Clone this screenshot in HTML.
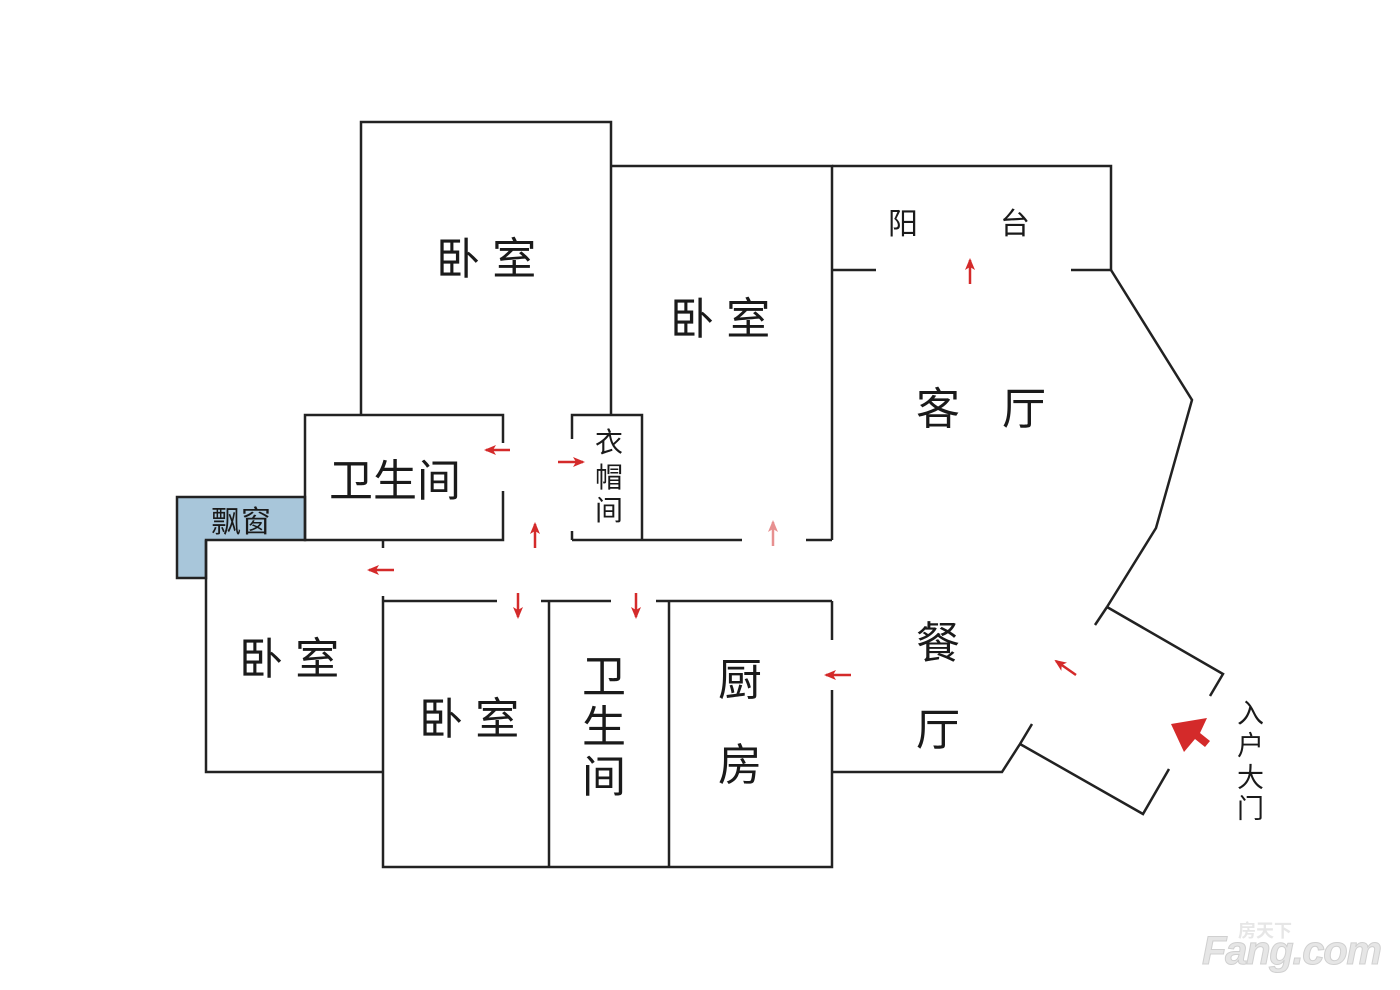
<!DOCTYPE html>
<html><head><meta charset="utf-8"><style>
html,body{margin:0;padding:0;background:#fff;}
svg{display:block;}
text{font-family:"Liberation Sans","Noto Sans CJK SC",sans-serif;fill:#1a1a1a;}
</style></head><body>
<svg width="1400" height="990" viewBox="0 0 1400 990" xmlns="http://www.w3.org/2000/svg">
<defs>
<marker id="a" markerWidth="12" markerHeight="10" refX="10" refY="5" orient="auto" markerUnits="userSpaceOnUse" viewBox="0 0 12 10"><path d="M0,0 L12,5 L0,10 L3,5 z" fill="#d42a2a"/></marker>
<marker id="b" markerWidth="12" markerHeight="10" refX="10" refY="5" orient="auto" markerUnits="userSpaceOnUse" viewBox="0 0 12 10"><path d="M0,0 L12,5 L0,10 L3,5 z" fill="#e79090"/></marker>
</defs>
<polygon points="177,497 305,497 305,540 206,540 206,578 177,578" fill="#a8c6da" stroke="#222" stroke-width="2.5"/>
<g stroke="#222" stroke-width="2.5" fill="none">
<polyline points="361,415 361,122 611,122 611,415"/>
<polyline points="611,166 832,166 832,540"/>
<polyline points="832,166 1111,166 1111,270"/>
<line x1="832" y1="270" x2="876" y2="270"/><line x1="1071" y1="270" x2="1111" y2="270"/>
<polyline points="1111,270 1192,400 1156,528 1107,607"/>
<line x1="1107" y1="607" x2="1095" y2="625"/>
<polyline points="1107,607 1223,674 1210,696"/>
<polyline points="1032,724 1020,744 1002,772 832,772"/>
<polyline points="1020,744 1143,814 1169,769"/>
<polyline points="503,443 503,415 305,415 305,540 503,540 503,491"/>
<polyline points="572,439 572,415 642,415 642,540"/>
<line x1="572" y1="531" x2="572" y2="540"/>
<line x1="572" y1="540" x2="742" y2="540"/><line x1="806" y1="540" x2="832" y2="540"/>
<polyline points="206,540 206,772 383,772"/>
<line x1="383" y1="540" x2="383" y2="548"/>
<polyline points="383,596 383,867 832,867 832,690"/>
<line x1="832" y1="601" x2="832" y2="640"/>
<line x1="383" y1="601" x2="497" y2="601"/><line x1="541" y1="601" x2="611" y2="601"/><line x1="656" y1="601" x2="832" y2="601"/>
<line x1="549" y1="601" x2="549" y2="867"/><line x1="669" y1="601" x2="669" y2="867"/>
</g>
<g stroke="#d42a2a" stroke-width="2.5" marker-end="url(#a)">
<line x1="970" y1="284" x2="970" y2="260"/>
<line x1="510" y1="450" x2="486" y2="450"/>
<line x1="558" y1="462" x2="583" y2="462"/>
<line x1="535" y1="548" x2="535" y2="524"/>
<line x1="773" y1="546" x2="773" y2="522" stroke="#e79090" marker-end="url(#b)"/>
<line x1="394" y1="570" x2="369" y2="570"/>
<line x1="518" y1="593" x2="518" y2="617"/>
<line x1="636" y1="593" x2="636" y2="617"/>
<line x1="851" y1="675" x2="826" y2="675"/>
<line x1="1076" y1="675" x2="1056" y2="661"/>
</g>
<polygon points="1171,724 1207,718 1200,733 1210,741 1205,747 1195,739 1184,752" fill="#d42a2a"/>
<g font-size="44">
<text x="436" y="274">卧 室</text>
<text x="670" y="334">卧 室</text>
<text x="239" y="674">卧 室</text>
<text x="419" y="734">卧 室</text>
<text x="916" y="424">客</text><text x="1002" y="424">厅</text>
<text x="916" y="658">餐</text><text x="916" y="745">厅</text>
<text x="329" y="496">卫生间</text>
<text x="582" y="692">卫</text><text x="582" y="742">生</text><text x="582" y="792">间</text>
<text x="718" y="695">厨</text><text x="718" y="780">房</text>
</g>
<g font-size="30">
<text x="888" y="234">阳</text><text x="1000" y="234">台</text>
<text x="211" y="532">飘窗</text>
<text x="595" y="452" font-size="28">衣</text><text x="595" y="487" font-size="28">帽</text><text x="595" y="520" font-size="28">间</text>
<text x="1237" y="723" font-size="27">入</text><text x="1237" y="755" font-size="27">户</text><text x="1237" y="787" font-size="27">大</text><text x="1237" y="818" font-size="27">门</text>
</g>
<text x="1202" y="964" font-size="40" font-weight="bold" font-style="italic" textLength="180" style="fill:#e6e6e6;stroke:#d0d0d0;stroke-width:1">Fang.com</text>
<text x="1238" y="937" font-size="18" font-weight="bold" style="fill:#e6e6e6">房天下</text>
</svg>
</body></html>
